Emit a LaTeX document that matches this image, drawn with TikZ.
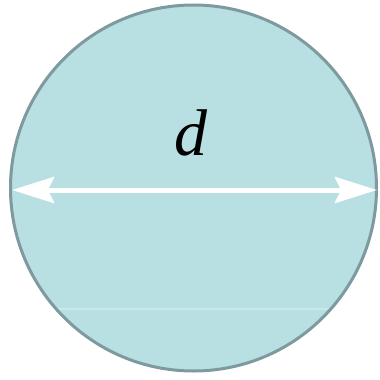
\documentclass[tikz,border=0pt]{standalone}
\usepackage{fontspec}
\setmainfont{Liberation Serif}
\usetikzlibrary{arrows.meta}
\definecolor{discfill}{HTML}{B8DFE2}
\definecolor{discedge}{HTML}{7E9A9E}
\definecolor{faint}{HTML}{C8E8EC}
\tikzset{
  disc/.style={fill=discfill, draw=discedge, line width=3pt},
  diam/.style={white, line width=5pt, {Stealth[length=42pt,width=26pt,inset=6pt]}-{Stealth[length=42pt,width=26pt,inset=6pt]}},
  lbl/.style={font=\fontsize{66}{66}\selectfont\itshape, inner sep=0pt}
}
\begin{document}
\begin{tikzpicture}[x=1pt,y=-1pt]
\useasboundingbox (0,0) rectangle (380,380);
\fill[white] (0,0) rectangle (380,380);
\node[disc, circle, minimum size=366pt, inner sep=0pt] (c) at (193.5,188) {};
\begin{scope}
\clip (193.5,188) circle (181pt);
\draw[faint, line width=1.2pt] (0,309) -- (380,309);
\end{scope}
\coordinate (l) at (12,190);
\coordinate (r) at (377,190);
\draw[diam] (l) -- (r);
\node[lbl] (d) at (191,133) {d};
\end{tikzpicture}
\end{document}
